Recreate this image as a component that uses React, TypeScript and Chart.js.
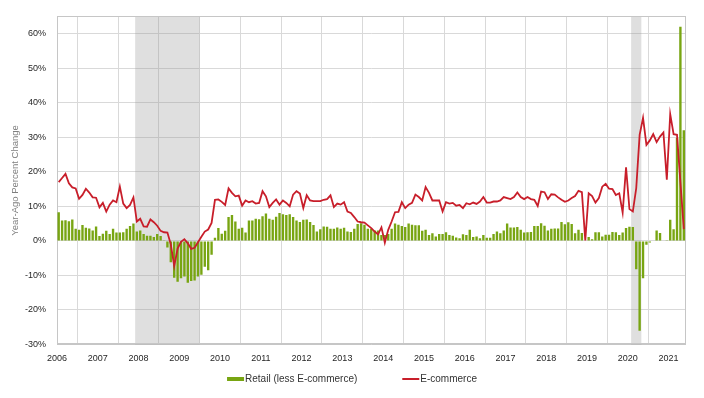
import React, { useEffect, useRef } from 'react';
import { Chart, registerables } from 'chart.js';

Chart.register(...registerables);

const FONT = '"Liberation Sans", Arial, sans-serif';

const yearLabels = ['2006', '2007', '2008', '2009', '2010', '2011', '2012', '2013', '2014', '2015', '2016', '2017', '2018', '2019', '2020', '2021'];
const yTicks = [-30, -20, -10, 0, 10, 20, 30, 40, 50, 60];
// recession periods as [start month index, end month index] (0 = Jan 2006)
const recessions: [number, number][] = [[23, 42], [169, 172]];

const retailLabel = 'Retail (less E-commerce)';
const ecomLabel = 'E-commerce';

// Monthly year-ago % change, Jan 2006 .. May 2021
const retail = [
  8.3, 5.9, 6.0, 5.7, 6.2, 3.5, 3.2, 4.6, 3.8, 3.6, 3.0, 4.2,
  1.4, 2.1, 2.9, 2.0, 3.5, 2.4, 2.4, 2.5, 3.5, 4.3, 5.0, 2.7,
  3.0, 2.0, 1.5, 1.5, 1.1, 2.0, 1.4, 0.2, -1.9, -6.2, -10.7, -11.8,
  -10.8, -10.3, -12.1, -11.6, -11.5, -10.3, -9.8, -7.5, -8.5, -4.0, 0.9, 3.7,
  2.1, 2.9, 6.9, 7.5, 5.6, 3.5, 3.8, 2.4, 5.9, 5.9, 6.4, 6.3,
  7.1, 7.9, 6.4, 6.1, 7.0, 8.1, 7.7, 7.5, 7.7, 6.9, 5.9, 5.5,
  6.1, 6.2, 5.5, 4.6, 2.7, 3.4, 4.2, 4.1, 3.5, 3.5, 3.9, 3.5,
  3.8, 2.7, 2.6, 3.5, 4.9, 5.1, 4.7, 3.5, 3.5, 3.0, 3.0, 1.7,
  1.7, 2.0, 3.5, 5.0, 4.7, 4.3, 4.0, 5.0, 4.7, 4.5, 4.5, 2.9,
  3.2, 1.7, 2.2, 1.3, 2.0, 2.0, 2.5, 1.7, 1.5, 1.0, 0.8, 1.9,
  1.7, 3.2, 1.1, 1.3, 0.8, 1.7, 0.9, 0.9, 2.0, 2.7, 2.2, 3.0,
  5.0, 3.9, 3.9, 4.0, 3.2, 2.4, 2.5, 2.6, 4.3, 4.3, 5.1, 4.4,
  3.0, 3.5, 3.6, 3.6, 5.5, 4.8, 5.4, 4.9, 2.2, 3.2, 2.3, 0.0,
  1.1, 0.5, 2.5, 2.5, 1.3, 1.8, 1.8, 2.6, 2.5, 1.7, 2.4, 3.7,
  4.1, 4.0, -8.2, -26.0, -10.8, -1.1, -0.5, -0.2, 3.0, 2.3, 0.1, 0.2,
  6.1, 3.4, 29.8, 62.0, 32.0,
];

const ecommerce = [
  17.0, 18.2, 19.4, 16.7, 15.5, 15.2, 12.2, 13.3, 15.1, 14.0, 12.6, 12.5,
  9.7, 11.0, 8.5, 10.5, 11.7, 11.2, 15.7, 10.8, 9.5, 10.4, 12.6, 5.6,
  6.4, 4.2, 4.1, 6.2, 5.4, 4.4, 2.9, 2.5, 2.4, -1.0, -7.3, -2.2,
  -0.3, 0.5, -0.7, -2.3, -2.0, -0.4, 1.2, 2.7, 3.3, 5.2, 11.9, 12.0,
  11.3, 10.4, 15.2, 13.9, 12.9, 13.1, 10.2, 11.7, 11.2, 11.5, 10.8, 11.0,
  14.4, 12.9, 9.8, 11.0, 12.0, 10.5, 11.7, 11.0, 10.0, 13.4, 14.4, 13.7,
  9.5, 13.2, 11.7, 11.5, 11.5, 11.5, 11.9, 12.1, 13.2, 9.8, 10.8, 10.5,
  11.2, 8.5, 8.1, 6.9, 5.6, 5.4, 5.3, 4.5, 3.7, 2.7, 1.9, 3.9,
  -0.5, 3.2, 5.6, 8.3, 8.4, 11.2, 9.5, 10.5, 11.0, 13.4, 12.7, 11.7,
  15.6, 13.9, 11.7, 11.7, 11.7, 8.5, 11.2, 10.8, 11.0, 10.2, 10.4, 9.5,
  10.9, 10.6, 11.1, 10.7, 11.4, 12.7, 11.1, 11.1, 11.4, 11.4, 11.7, 12.7,
  12.4, 12.1, 12.7, 14.0, 12.7, 12.1, 12.7, 12.1, 11.9, 10.1, 14.3, 14.1,
  12.1, 13.5, 13.4, 12.6, 11.9, 11.3, 11.7, 12.4, 13.0, 14.5, 14.1, 0.1,
  13.8, 13.0, 11.1, 12.4, 15.7, 16.5, 15.1, 15.0, 13.3, 13.8, 8.2, 21.3,
  9.2, 8.5, 15.3, 30.7, 35.6, 27.8, 29.1, 30.9, 28.6, 30.2, 31.4, 17.7,
  36.7, 30.9, 30.7, 17.0, 3.4,
];

const GREEN = '#78a512';
const RED = '#c81e2a';
const GRID = '#d9d9d9';
const BORDER = '#c6c6c6';

const shadePlugin = {
  id: 'recessionShade',
  beforeDatasetsDraw(chart: any) {
    const { ctx, chartArea, scales } = chart;
    ctx.save();
    ctx.fillStyle = 'rgba(150,150,150,0.3)';
    for (const [a, b] of recessions) {
      const x0 = scales.x.getPixelForValue(a);
      const x1 = scales.x.getPixelForValue(b);
      ctx.fillRect(x0, chartArea.top, x1 - x0, chartArea.bottom - chartArea.top);
    }
    ctx.strokeStyle = BORDER;
    ctx.lineWidth = 1;
    ctx.strokeRect(
      Math.round(chartArea.left) + 0.5,
      Math.round(chartArea.top) + 0.5,
      Math.round(chartArea.right - chartArea.left) - 1,
      Math.round(chartArea.bottom - chartArea.top) - 1
    );
    ctx.restore();
  },
};

const legendPlugin = {
  id: 'customLegend',
  afterDraw(chart: any) {
    const { ctx } = chart;
    const ds = chart.data.datasets;
    ctx.save();
    ctx.font = `10px ${FONT}`;
    ctx.textBaseline = 'middle';
    ctx.textAlign = 'left';
    const boxW = 17;
    const gap = 1;
    const spacing = 45;
    const widths = ds.map((d: any) => ctx.measureText(d.label).width);
    const total = widths.reduce((s: number, w: number) => s + boxW + gap + w, 0) + spacing * (ds.length - 1);
    let x = (chart.width - total) / 2;
    const y = chart.chartArea.bottom + 34.5;
    ds.forEach((d: any, k: number) => {
      if (d.type === 'line') {
        ctx.strokeStyle = d.borderColor;
        ctx.lineWidth = 2;
        ctx.beginPath();
        ctx.moveTo(x, y);
        ctx.lineTo(x + boxW, y);
        ctx.stroke();
      } else {
        ctx.fillStyle = d.backgroundColor;
        ctx.fillRect(x, y - 2, boxW, 4);
      }
      x += boxW + gap;
      ctx.fillStyle = '#333333';
      ctx.fillText(d.label, x, y);
      x += widths[k] + spacing;
    });
    ctx.restore();
  },
};

export default function App() {
  const ref = useRef<HTMLCanvasElement | null>(null);

  useEffect(() => {
    if (!ref.current) return;
    const chart = new Chart(ref.current, {
      type: 'bar',
      data: {
        datasets: [
          {
            type: 'bar',
            label: retailLabel,
            data: retail.map((v, i) => ({ x: i + 0.5, y: v })),
            backgroundColor: GREEN,
            borderWidth: 0,
            barPercentage: 0.7,
            categoryPercentage: 1,
            order: 1,
          } as any,
          {
            type: 'line',
            label: ecomLabel,
            data: ecommerce.map((v, i) => ({ x: i + 0.5, y: v })),
            borderColor: RED,
            backgroundColor: RED,
            borderWidth: 1.8,
            pointRadius: 0,
            tension: 0,
            order: 0,
          } as any,
        ],
      },
      options: {
        responsive: false,
        animation: false,
        layout: { padding: { top: 16, right: 18.5, bottom: 23.5, left: 0 } },
        plugins: {
          legend: { display: false },
          tooltip: { enabled: false },
        },
        scales: {
          x: {
            type: 'linear',
            min: 0,
            max: 185,
            offset: false,
            grid: { color: GRID, drawTicks: false },
            border: { color: BORDER },
            ticks: {
              padding: 9,
              autoSkip: false,
              maxRotation: 0,
              color: '#262626',
              font: { family: FONT, size: 9 },
              callback: (v: any) => yearLabels[Math.round(Number(v) / 12)] ?? '',
            },
            afterBuildTicks: (s: any) => {
              s.ticks = yearLabels.map((_, k) => ({ value: k * 12 }));
            },
            afterFit: (s: any) => {
              s.height = 30;
            },
          },
          y: {
            min: -30,
            max: 65,
            grid: { color: GRID, drawTicks: false },
            border: { color: BORDER },
            ticks: {
              padding: 11,
              color: '#262626',
              font: { family: FONT, size: 9 },
              callback: (v: any) => `${v}%`,
            },
            afterBuildTicks: (s: any) => {
              s.ticks = yTicks.map((v) => ({ value: v }));
            },
            title: {
              display: true,
              text: 'Year-Ago Percent Change',
              color: '#7f7f7f',
              font: { family: FONT, size: 9.5 },
              padding: { top: 10, bottom: 0 },
            },
            afterFit: (s: any) => {
              s.width = 57;
            },
          },
        },
      } as any,
      plugins: [shadePlugin, legendPlugin],
    });
    return () => chart.destroy();
  }, []);

  return (
    <div style={{ position: 'fixed', left: 0, top: 0, width: 704, height: 398, background: '#fff' }}>
      <canvas ref={ref} width={704} height={398} style={{ width: 704, height: 398 }} />
    </div>
  );
}
